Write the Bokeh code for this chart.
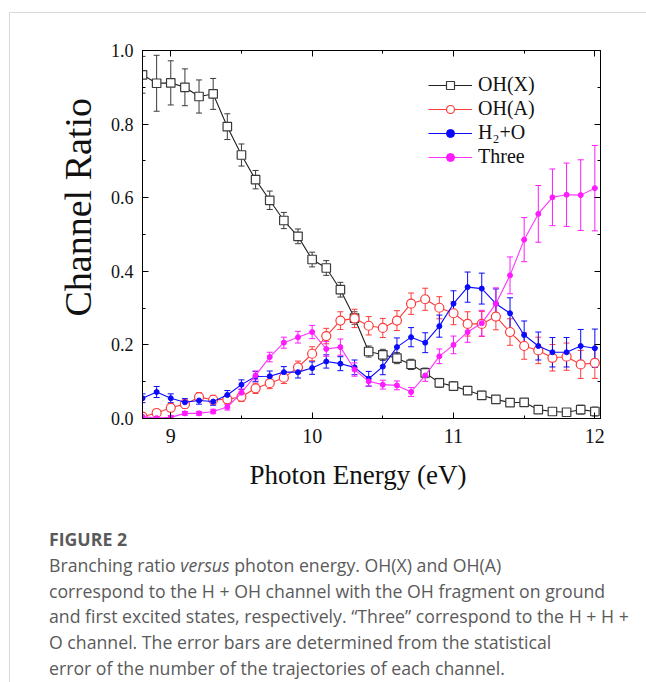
from bokeh.plotting import figure
from bokeh.models import (ColumnDataSource, Whisker, TeeHead, Legend, LegendItem,
                          LinearAxis, Range1d, SingleIntervalTicker, Div, Title,
                          NumeralTickFormatter)
from bokeh.layouts import column
from bokeh.embed import file_html
from bokeh.resources import INLINE

energy = [8.8, 8.9, 9.0, 9.1, 9.2, 9.3, 9.4, 9.5, 9.6, 9.7, 9.8, 9.9, 10.0, 10.1, 10.2, 10.3, 10.4,
          10.5, 10.6, 10.7, 10.8, 10.9, 11.0, 11.1, 11.2, 11.3, 11.4, 11.5, 11.6, 11.7, 11.8, 11.9, 12.0]

oh_x = [0.934, 0.911, 0.912, 0.900, 0.875, 0.882, 0.793, 0.716, 0.649, 0.593, 0.538, 0.495, 0.432,
        0.409, 0.350, 0.273, 0.182, 0.173, 0.164, 0.147, 0.124, 0.097, 0.088, 0.076, 0.063, 0.052,
        0.043, 0.044, 0.024, 0.019, 0.017, 0.024, 0.019]
oh_x_err = [0.050, 0.076, 0.060, 0.050, 0.045, 0.042, 0.035, 0.030, 0.025, 0.025, 0.022, 0.020, 0.020,
            0.020, 0.020, 0.017, 0.015, 0.015, 0.015, 0.014, 0.013, 0.012, 0.012, 0.011, 0.011, 0.010,
            0.010, 0.010, 0.009, 0.008, 0.008, 0.012, 0.012]

oh_a = [0.005, 0.015, 0.029, 0.039, 0.058, 0.051, 0.052, 0.059, 0.082, 0.096, 0.111, 0.139, 0.176,
        0.224, 0.266, 0.272, 0.252, 0.246, 0.266, 0.312, 0.324, 0.301, 0.286, 0.257, 0.257, 0.277,
        0.235, 0.197, 0.185, 0.165, 0.168, 0.147, 0.151]
oh_a_err = [0.006, 0.008, 0.010, 0.011, 0.012, 0.012, 0.012, 0.013, 0.014, 0.015, 0.016, 0.017, 0.019,
            0.021, 0.024, 0.025, 0.025, 0.026, 0.027, 0.029, 0.030, 0.030, 0.031, 0.033, 0.034, 0.036,
            0.036, 0.036, 0.036, 0.036, 0.037, 0.038, 0.042]

h2o = [0.055, 0.072, 0.055, 0.044, 0.049, 0.046, 0.064, 0.092, 0.114, 0.115, 0.126, 0.126, 0.137,
       0.155, 0.149, 0.139, 0.108, 0.141, 0.194, 0.221, 0.206, 0.251, 0.312, 0.357, 0.353, 0.312,
       0.286, 0.227, 0.197, 0.180, 0.180, 0.197, 0.191]
h2o_err = [0.012, 0.015, 0.012, 0.010, 0.010, 0.010, 0.012, 0.013, 0.014, 0.014, 0.015, 0.016, 0.017,
           0.018, 0.019, 0.020, 0.020, 0.022, 0.025, 0.026, 0.027, 0.030, 0.035, 0.041, 0.042, 0.040,
           0.042, 0.038, 0.038, 0.040, 0.040, 0.045, 0.052]

three = [0.005, 0.001, 0.003, 0.014, 0.014, 0.019, 0.031, 0.070, 0.117, 0.167, 0.206, 0.221, 0.235,
         0.189, 0.194, 0.133, 0.101, 0.092, 0.090, 0.072, 0.117, 0.169, 0.200, 0.235, 0.259, 0.312,
         0.389, 0.486, 0.556, 0.601, 0.608, 0.607, 0.626]
three_err = [0.004, 0.004, 0.005, 0.005, 0.005, 0.006, 0.008, 0.010, 0.012, 0.013, 0.015, 0.016, 0.018,
             0.020, 0.022, 0.018, 0.013, 0.012, 0.012, 0.012, 0.016, 0.020, 0.024, 0.028, 0.035, 0.043,
             0.050, 0.060, 0.077, 0.077, 0.086, 0.096, 0.116]

series_names = ["OH(X)", "OH(A)", "H\u2082+O", "Three"]

SERIF = "Liberation Serif"

p = figure(frame_width=458, frame_height=368, min_border_left=132, min_border_right=46,
           min_border_top=37, min_border_bottom=104,
           x_range=Range1d(8.8, 12.04), y_range=Range1d(0.0, 1.0),
           output_backend="svg", toolbar_location=None, background_fill_color="white",
           border_fill_color="white")
p.xgrid.visible = False
p.ygrid.visible = False
p.outline_line_color = "black"
p.outline_line_width = 1

xt = SingleIntervalTicker(interval=1, num_minor_ticks=2)
yt = SingleIntervalTicker(interval=0.2, num_minor_ticks=2)


def style_axis(ax, labels=True):
    ax.axis_line_color = "black"
    ax.axis_line_width = 1
    ax.major_tick_in = 6
    ax.major_tick_out = 0
    ax.minor_tick_in = 3
    ax.minor_tick_out = 0
    ax.major_tick_line_color = "black"
    ax.minor_tick_line_color = "black"
    ax.major_label_text_font = SERIF
    ax.major_label_text_color = "#111111" if labels else None


p.xaxis.ticker = xt
p.yaxis.ticker = yt
p.yaxis.formatter = NumeralTickFormatter(format="0.0")
style_axis(p.xaxis[0])
style_axis(p.yaxis[0])
p.xaxis.major_label_text_font_size = "20px"
p.yaxis.major_label_text_font_size = "18px"
p.xaxis.major_label_standoff = 10
p.yaxis.major_label_standoff = 9

top = LinearAxis(ticker=xt, major_label_text_font_size="0px")
style_axis(top, labels=False)
right = LinearAxis(ticker=yt, major_label_text_font_size="0px")
style_axis(right, labels=False)
p.add_layout(top, "above")
p.add_layout(right, "right")

colors = ["#3a3a3a", "#ff3b3b", "#0a0aff", "#ff1aff"]
line_colors = ["#222222", "#ff3b3b", "#0a0aff", "#ff33ff"]
vals = [oh_x, oh_a, h2o, three]
errs = [oh_x_err, oh_a_err, h2o_err, three_err]

items = []
for i, (v, e) in enumerate(zip(vals, errs)):
    src = ColumnDataSource(dict(x=energy, y=v,
                                upper=[a + b for a, b in zip(v, e)],
                                lower=[a - b for a, b in zip(v, e)]))
    w = Whisker(base="x", upper="upper", lower="lower", source=src,
                line_color=colors[i], line_width=1,
                upper_head=TeeHead(size=6, line_color=colors[i], line_width=1),
                lower_head=TeeHead(size=6, line_color=colors[i], line_width=1),
                level="underlay")
    p.add_layout(w)
    ln = p.line("x", "y", source=src, line_color=line_colors[i], line_width=1.1)
    if i == 0:
        sc = p.scatter("x", "y", source=src, marker="square", size=8.5, line_color=colors[i],
                       fill_color="white", line_width=1.2)
    elif i == 1:
        sc = p.scatter("x", "y", source=src, marker="circle", size=9, line_color=colors[i],
                       fill_color="white", line_width=1.2)
    else:
        sc = p.scatter("x", "y", source=src, marker="circle", size=5, line_color=colors[i],
                       fill_color=colors[i], line_width=1)
    items.append(LegendItem(label=series_names[i], renderers=[ln, sc]))

legend = Legend(items=items, location=(286, 250), glyph_width=44, glyph_height=20,
                label_height=20, spacing=1, label_standoff=6, padding=0, margin=0,
                label_text_font=SERIF, label_text_font_size="20px",
                label_text_color="#111111",
                border_line_color=None, background_fill_alpha=0)
p.add_layout(legend, "center")

ytitle = Title(text="Channel Ratio", align="left", offset=102, standoff=17,
               text_font=SERIF, text_font_size="38px", text_font_style="normal",
               text_color="#111111")
p.add_layout(ytitle, "left")
xtitle = Title(text="Photon Energy (eV)", align="left", offset=107, standoff=25,
               text_font=SERIF, text_font_size="27px", text_font_style="normal",
               text_color="#111111")
p.add_layout(xtitle, "below")

caption_html = (
    "<div style=\"font-family:'Open Sans'; color:#5a5a5a; "
    "font-size:17.7px; line-height:25.8px; padding-left:34px; white-space:nowrap;\">"
    "<b>FIGURE 2</b><br>"
    "Branching ratio <i>versus</i> photon energy. OH(X) and OH(A)<br>"
    "correspond to the H + OH channel with the OH fragment on ground<br>"
    "and first excited states, respectively. \u201cThree\u201d correspond to the H + H +<br>"
    "O channel. The error bars are determined from the statistical<br>"
    "error of the number of the trajectories of each channel."
    "</div>"
)
cap = Div(text=caption_html, width=636, height=159, styles={"overflow": "hidden"})

layout = column(p, cap, margin=(12, 0, 0, 9),
                styles={"border-top": "1px solid #d8d8d8", "border-left": "1px solid #d8d8d8"})

open("out.html", "w").write(file_html(layout, INLINE))
